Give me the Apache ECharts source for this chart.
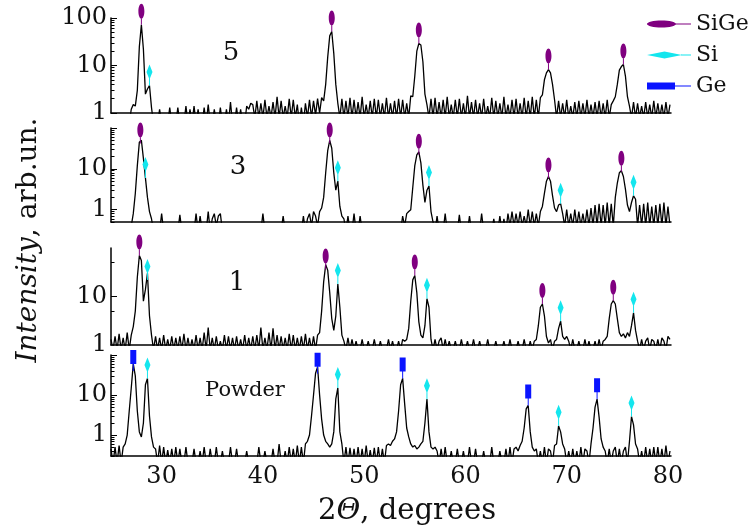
<!DOCTYPE html>
<html>
<head>
<meta charset="utf-8">
<script src="https://cdn.jsdelivr.net/npm/echarts@6/dist/echarts.min.js"></script>
<style>html,body{margin:0;padding:0;background:#fff;}#c{width:749px;height:531px;}</style>
</head>
<body>
<div id="c"></div>
<script>
// 2-theta grid (degrees)
const angles = [
25,25.2,25.4,25.6,25.8,26,26.2,26.4,26.6,26.8,
27,27.2,27.4,27.6,27.8,28,28.2,28.4,28.6,28.8,
29,29.2,29.4,29.6,29.8,30,30.2,30.4,30.6,30.8,
31,31.2,31.4,31.6,31.8,32,32.2,32.4,32.6,32.8,
33,33.2,33.4,33.6,33.8,34,34.2,34.4,34.6,34.8,
35,35.2,35.4,35.6,35.8,36,36.2,36.4,36.6,36.8,
37,37.2,37.4,37.6,37.8,38,38.2,38.4,38.6,38.8,
39,39.2,39.4,39.6,39.8,40,40.2,40.4,40.6,40.8,
41,41.2,41.4,41.6,41.8,42,42.2,42.4,42.6,42.8,
43,43.2,43.4,43.6,43.8,44,44.2,44.4,44.6,44.8,
45,45.2,45.4,45.6,45.8,46,46.2,46.4,46.6,46.8,
47,47.2,47.4,47.6,47.8,48,48.2,48.4,48.6,48.8,
49,49.2,49.4,49.6,49.8,50,50.2,50.4,50.6,50.8,
51,51.2,51.4,51.6,51.8,52,52.2,52.4,52.6,52.8,
53,53.2,53.4,53.6,53.8,54,54.2,54.4,54.6,54.8,
55,55.2,55.4,55.6,55.8,56,56.2,56.4,56.6,56.8,
57,57.2,57.4,57.6,57.8,58,58.2,58.4,58.6,58.8,
59,59.2,59.4,59.6,59.8,60,60.2,60.4,60.6,60.8,
61,61.2,61.4,61.6,61.8,62,62.2,62.4,62.6,62.8,
63,63.2,63.4,63.6,63.8,64,64.2,64.4,64.6,64.8,
65,65.2,65.4,65.6,65.8,66,66.2,66.4,66.6,66.8,
67,67.2,67.4,67.6,67.8,68,68.2,68.4,68.6,68.8,
69,69.2,69.4,69.6,69.8,70,70.2,70.4,70.6,70.8,
71,71.2,71.4,71.6,71.8,72,72.2,72.4,72.6,72.8,
73,73.2,73.4,73.6,73.8,74,74.2,74.4,74.6,74.8,
75,75.2,75.4,75.6,75.8,76,76.2,76.4,76.6,76.8,
77,77.2,77.4,77.6,77.8,78,78.2,78.4,78.6,78.8,
79,79.2,79.4,79.6,79.8,80,80.2];

// Intensities (arb. un.), sample "5"
const sample5 = [
0.6,0.6,0.6,0.6,0.6,0.6,0.6,0.6,0.6,0.6,
1.2,1.5,1.4,3,25,72,22,2.5,3.2,3.8,
1.3,0.6,0.6,0.6,1.2,0.6,0.6,0.6,0.6,1.3,
0.6,0.6,0.6,1.3,0.6,0.6,0.6,1.4,0.6,1.2,
0.6,1.4,0.6,1.2,0.6,0.6,1.3,0.6,1.5,0.6,
0.6,1.2,0.6,0.6,1.3,0.6,0.6,1.2,0.6,1.7,
0.6,0.6,1.3,0.6,1.2,0.6,0.6,1.4,1.2,1.6,
1.5,0.8,1.8,0.8,1.6,0.8,1.9,0.8,1.4,0.8,
1.7,0.8,2.2,0.8,1.8,0.8,1.4,0.8,2.0,0.8,
1.9,0.8,1.5,0.6,1.3,0.6,1.6,0.8,1.9,0.8,
1.8,0.9,2.0,1.0,2.1,1.8,4,15,42,52,
18,4,1.6,0.8,2.0,0.8,1.8,0.8,2.1,0.8,
1.9,0.8,1.7,0.8,2.2,0.8,1.5,0.8,1.8,0.8,
2.0,0.8,1.9,0.8,1.6,0.8,2.1,0.8,1.6,0.8,
1.8,0.8,2.0,0.8,1.9,0.8,1.6,0.8,2.3,2.2,
6,20,29,27,12,2.5,1.5,0.8,2.0,0.8,
2.1,0.8,1.7,0.8,1.9,0.8,2.2,0.8,1.5,0.8,
1.9,0.8,2.0,0.8,1.6,0.8,2.3,0.8,1.7,0.8,
1.9,0.8,1.6,0.8,2.0,0.8,1.4,0.8,2.1,0.8,
1.8,0.8,1.6,0.8,2.2,0.8,1.5,0.8,1.9,0.8,
2.0,0.8,1.6,0.8,2.1,0.8,1.8,0.8,2.2,0.8,
1.9,0.8,2.1,2.4,5,7,8.2,7,4,1.9,
0.8,1.8,0.8,1.6,0.8,1.9,0.8,1.4,0.8,1.7,
0.8,1.8,0.8,1.6,0.8,1.9,0.8,1.5,0.8,1.7,
0.8,1.8,0.8,1.6,0.8,1.9,0.8,1.5,1.8,2.2,
4,8,9.5,10.5,6,2.2,1.4,0.8,1.7,0.8,
1.6,0.8,1.4,0.8,1.7,0.8,1.5,0.8,1.8,0.8,
1.6,0.8,1.5,0.8,1.7,0.8,1.5];

// sample "3"
const sample3 = [
0.3,0.3,0.3,0.3,0.3,0.3,0.3,0.3,0.3,0.3,
0.4,0.8,2.5,12,45,50,18,6,2,0.9,
0.6,0.3,0.3,0.3,0.3,0.8,0.3,0.3,0.3,0.3,
0.3,0.3,0.3,0.3,0.75,0.3,0.3,0.3,0.3,0.3,
0.3,0.3,0.8,0.3,0.7,0.3,0.3,0.3,0.9,0.3,
0.6,0.8,0.4,0.7,0.8,0.3,0.3,0.3,0.3,0.3,
0.3,0.3,0.3,0.3,0.3,0.3,0.3,0.3,0.3,0.3,
0.3,0.3,0.3,0.3,0.3,0.8,0.3,0.3,0.3,0.3,
0.3,0.3,0.3,0.3,0.3,0.7,0.3,0.3,0.3,0.3,
0.3,0.3,0.3,0.3,0.3,0.7,0.3,0.6,0.8,0.4,
0.9,0.7,0.4,0.9,1.1,2,8,28,50,32,
8,3,5,1.2,0.7,0.6,0.3,0.7,0.3,0.3,
0.8,0.3,0.3,0.7,0.3,0.3,0.3,0.3,0.3,0.3,
0.3,0.3,0.3,0.3,0.3,0.3,0.3,0.3,0.3,0.3,
0.3,0.3,0.3,0.3,0.7,0.4,0.8,0.9,1.0,3.5,
12,22,26,14,4,1.5,3,3.8,0.9,0.5,
0.3,0.7,0.3,0.3,0.3,0.8,0.3,0.3,0.3,0.3,
0.3,0.3,0.75,0.3,0.3,0.3,0.3,0.7,0.3,0.3,
0.3,0.3,0.3,0.8,0.3,0.3,0.3,0.3,0.3,0.6,
0.3,0.3,0.7,0.3,0.6,0.3,0.8,0.4,0.9,0.4,
0.8,0.4,0.9,0.4,0.7,0.4,1.0,0.4,0.9,0.4,
0.8,0.4,0.9,1.2,2.5,5,6.5,5,2.2,1.1,
0.9,1.3,1.4,0.8,0.4,1.0,0.4,0.8,0.4,1.0,
0.4,0.9,0.4,0.8,0.4,1.0,0.4,1.1,0.4,1.3,
0.4,1.4,0.4,1.3,0.4,1.5,0.4,1.4,0.4,2,
4.5,8,9,6.5,3.2,1.3,0.9,1.5,2.2,1.8,
0.4,1.3,0.4,1.4,0.4,1.5,0.4,1.2,0.4,1.3,
0.4,1.4,0.4,1.5,0.4,1.2,0.4];

// sample "1"
const sample1 = [
1.3,0.8,1.5,0.8,1.7,0.8,1.4,0.8,1.8,0.8,
1.6,2.4,5,25,70,55,8,14,30,4,
1.6,0.8,1.5,0.8,1.4,0.8,1.6,0.8,1.3,0.8,
1.5,0.8,1.4,0.8,1.5,0.8,1.7,0.8,1.4,0.8,
1.3,0.8,1.6,0.8,1.4,0.8,1.8,0.8,2.3,0.8,
1.4,0.8,1.5,0.8,1.2,0.8,1.6,0.8,1.5,0.8,
1.4,0.8,1.5,0.8,1.3,0.8,1.6,0.8,1.4,0.8,
1.5,0.8,1.6,0.8,2.3,0.8,1.4,0.8,1.8,0.8,
2.2,0.8,1.6,0.8,1.5,0.8,1.4,0.8,1.7,0.8,
1.6,0.8,1.4,0.8,1.5,0.8,1.7,0.8,1.4,0.8,
1.5,0.8,1.6,1.8,5,20,45,35,12,3.5,
2,4,18,6,1.6,1.2,0.8,1.4,0.8,1.3,
0.8,1.2,0.8,0.8,1.3,0.8,0.8,1.2,0.8,0.8,
1.3,0.8,0.8,1.2,0.8,0.8,0.8,1.3,0.8,1.2,
0.8,0.8,1.2,0.8,1.3,1.2,1.3,2.2,8,22,
27,12,3,1.6,1.4,2.5,9,6,1.3,0.8,
1.3,0.8,1.2,1.4,0.8,1.3,0.8,1.2,0.8,0.8,
1.2,0.8,0.8,1.3,0.8,0.8,1.2,0.8,0.8,1.3,
0.8,0.8,1.2,0.8,0.8,0.8,1.3,0.8,0.8,0.8,
1.2,0.8,0.8,0.8,1.2,0.8,0.8,1.3,0.8,0.8,
0.8,1.2,0.8,0.8,1.3,0.8,0.8,1.2,0.8,1.2,
1.3,2.5,6,7,4,1.5,1.1,1.3,0.8,1.2,
1.3,2.2,3.1,1.5,1.3,1.5,1.2,0.8,1.3,0.8,
0.8,1.2,0.8,0.8,1.3,0.8,1.2,0.8,0.8,1.2,
0.8,1.3,0.8,1.2,1.3,1.5,3.5,7,8.2,7,
3.5,1.8,1.5,1.7,1.4,1.8,1.5,2.5,4.6,2,
1.2,0.8,1.3,0.8,1.2,1.4,0.8,1.3,1.2,0.8,
1.3,0.8,1.4,1.2,0.8,1.5,1.3];

// Powder
const powder = [
0.45,0.2,0.5,0.2,0.55,0.2,0.5,0.6,1.0,4,
15,60,30,4,1.2,0.9,2,18,26,3,
0.9,0.5,0.45,0.2,0.55,0.2,0.5,0.2,0.42,0.2,
0.45,0.2,0.5,0.2,0.45,0.2,0.2,0.5,0.2,0.2,
0.2,0.45,0.2,0.2,0.4,0.2,0.5,0.2,0.2,0.45,
0.2,0.2,0.5,0.2,0.2,0.4,0.2,0.2,0.2,0.5,
0.2,0.2,0.45,0.2,0.2,0.2,0.2,0.4,0.2,0.2,
0.2,0.2,0.2,0.5,0.2,0.2,0.4,0.2,0.2,0.2,
0.45,0.2,0.2,0.6,0.2,0.2,0.4,0.2,0.5,0.2,
0.45,0.2,0.55,0.2,0.5,0.2,0.6,0.7,1.0,3,
10,35,50,10,2.5,1,0.7,0.6,0.5,0.6,
1.2,8,15,1.2,0.6,0.2,0.5,0.2,0.48,0.2,
0.45,0.2,0.5,0.2,0.45,0.2,0.55,0.2,0.42,0.2,
0.48,0.2,0.5,0.2,0.45,0.2,0.55,0.6,0.55,0.7,
0.8,1.2,4,18,26,6,1.5,0.9,0.6,0.5,
0.55,0.45,0.5,0.6,0.7,2,7.9,1.2,0.5,0.45,
0.5,0.4,0.2,0.45,0.2,0.5,0.2,0.2,0.4,0.2,
0.2,0.45,0.2,0.2,0.4,0.2,0.2,0.5,0.2,0.2,
0.45,0.2,0.2,0.2,0.4,0.2,0.2,0.2,0.5,0.2,
0.2,0.2,0.4,0.2,0.2,0.45,0.2,0.5,0.2,0.45,
0.5,0.4,0.55,0.7,1.5,4.5,5.5,1.2,0.5,0.4,
0.45,0.2,0.4,0.2,0.5,0.2,0.45,0.4,0.2,0.55,
0.6,1.7,1.2,0.6,0.45,0.2,0.4,0.2,0.45,0.2,
0.4,0.2,0.5,0.2,0.45,0.4,0.2,0.6,1.5,5,
7.9,2.8,0.8,0.5,0.4,0.2,0.45,0.2,0.4,0.5,
0.2,0.45,0.2,0.4,0.5,0.2,0.7,2.9,1.8,0.6,
0.45,0.2,0.4,0.2,0.5,0.2,0.45,0.2,0.5,0.2,
0.5,0.2,0.45,0.2,0.55,0.2,0.4];

// Phase markers: [2theta, intensity at the marker stem foot]
const sige5 = [[28.0,72],[46.8,52],[55.4,29],[68.2,8.2],[75.6,10.5]];
const si5 = [[28.8,3.8]];
const sige3 = [[27.9,42],[46.6,42],[55.4,22],[68.2,5.8],[75.4,8.5]];
const si3 = [[28.4,6],[47.4,5],[56.4,3.8],[69.4,1.4],[76.6,2.2]];
const sige1 = [[27.8,70],[46.2,36],[55.0,27],[67.6,7],[74.6,8.2]];
const si1 = [[28.6,22],[47.4,18],[56.2,9],[69.4,3.1],[76.6,4.6]];
const gePow = [[27.2,40],[45.4,34],[53.8,26],[66.2,5.5],[73.0,7.9]];
const siPow = [[28.6,26],[47.4,15],[56.2,7.9],[69.2,1.7],[76.4,2.9]];

// Axis ticks
const xTicks = [30,40,50,60,70,80];
const yLabels5 = [1,10,100];
const yLabels3 = [1,10];
const yLabels1 = [1,10];
const yLabelsP = [1,10];
const panelNames = ['5','3','1','Powder'];

const FONT = "'DejaVu Serif', serif";
const minorDec = [2,3,4,5,6,7,8,9,20,30,40,50,60,70,80,90];
const panels = [
  {vals: sample5, min:1, max:100, labels:yLabels5, major:[1,10,100], minor:minorDec, top:18, height:95},
  {vals: sample3, min:0.5, max:100, labels:yLabels3, major:[1,10,100], minor:[0.5,0.6,0.7,0.8,0.9].concat(minorDec), top:128, height:94},
  {vals: sample1, min:1, max:100, labels:yLabels1, major:[10], minor:[5,50], top:248, height:97},
  {vals: powder, min:0.3, max:100, labels:yLabelsP, major:[1,10,100], minor:[0.3,0.4,0.5,0.6,0.7,0.8,0.9].concat(minorDec), top:355, height:101}
];

const SIGE_SYM = 'path://M3,0C4.66,0 6,3.36 6,7.5C6,11.64 4.66,15 3,15C1.34,15 0,11.64 0,7.5C0,3.36 1.34,0 3,0Z M2.5,14L3.5,14L3.5,21L2.5,21Z';
const SI_SYM = 'path://M3,0L6,7.5L3,15L0,7.5Z M2.5,14L3.5,14L3.5,21L2.5,21Z';
const GE_SYM = 'path://M0,0L6,0L6,14L0,14Z M2.5,14L3.5,14L3.5,21L2.5,21Z';
const COL = {SiGe:'#800080', Si:'#14e6ee', Ge:'#0a14ff'};

const grids = [], xAxes = [], yAxes = [], series = [];
panels.forEach((p, i) => {
  grids.push({left:111, top:p.top, width:560, height:p.height, containLabel:false, outerBoundsMode:'none'});
  xAxes.push({
    type:'value', gridIndex:i, min:25, max:80.3,
    axisLine:{show:true, onZero:false, lineStyle:{color:'#000', width:1.5}},
    axisTick:{show:false}, splitLine:{show:false},
    axisLabel: i === 3 ? {show:true, customValues:xTicks, fontFamily:FONT, fontSize:24, color:'#111', margin:9} : {show:false}
  });
  yAxes.push({
    type:'log', logBase:10, gridIndex:i, position:'left', min:p.min, max:p.max,
    axisLine:{show:true, onZero:false, lineStyle:{color:'#000', width:1.5}},
    axisTick:{show:true, inside:true, length:6, customValues:p.major, lineStyle:{color:'#000', width:1}},
    axisLabel:{show:true, customValues:p.labels, fontFamily:FONT, fontSize:24, color:'#111', margin:4},
    splitLine:{show:false}
  });
  yAxes.push({
    type:'log', logBase:10, gridIndex:i, position:'left', min:p.min, max:p.max,
    axisLine:{show:false},
    axisTick:{show:true, inside:true, length:3.5, customValues:p.minor, lineStyle:{color:'#000', width:1}},
    axisLabel:{show:false}, splitLine:{show:false}
  });
  series.push({
    type:'line', xAxisIndex:i, yAxisIndex:2*i, symbol:'none', showSymbol:false, smooth:false, clip:true, silent:true,
    data: angles.map((a, k) => [a, p.vals[k]]),
    lineStyle:{color:'#000', width:1.3}, z:2
  });
});

function markers(name, sym, data, i) {
  return {
    type:'scatter', name:name, xAxisIndex:i, yAxisIndex:2*i, data:data, clip:false, silent:true,
    symbol:sym, symbolSize:[6,21], symbolOffset:[0,'-50%'],
    itemStyle:{color:COL[name], opacity:1}, z:3
  };
}
series.push(markers('SiGe', SIGE_SYM, sige5, 0));
series.push(markers('Si', SI_SYM, si5, 0));
series.push(markers('SiGe', SIGE_SYM, sige3, 1));
series.push(markers('Si', SI_SYM, si3, 1));
series.push(markers('SiGe', SIGE_SYM, sige1, 2));
series.push(markers('Si', SI_SYM, si1, 2));
series.push(markers('Ge', GE_SYM, gePow, 3));
series.push(markers('Si', SI_SYM, siPow, 3));

const labelPos = [[231,53],[238,167],[237,283],[245,391]];
const graphics = panelNames.map((t, i) => ({
  type:'text', x:labelPos[i][0], y:labelPos[i][1],
  style:{text:t, fontFamily:FONT, fontSize: i === 3 ? 21 : 26, fill:'#111', textAlign:'center', textVerticalAlign:'middle'}
}));
graphics.push({
  type:'text', x:29, y:240, rotation:Math.PI/2,
  style:{text:'{it|Intensity}, arb.un.', fontFamily:FONT, fontSize:28, fill:'#111', textAlign:'center', textVerticalAlign:'middle',
    rich:{it:{fontFamily:FONT, fontSize:28, fontStyle:'italic', fill:'#111'}}}
});
graphics.push({
  type:'text', x:407, y:511,
  style:{text:'2{it|Θ}, degrees', fontFamily:FONT, fontSize:29, fill:'#111', textAlign:'center', textVerticalAlign:'middle',
    rich:{it:{fontFamily:FONT, fontSize:29, fontStyle:'italic', fill:'#111'}}}
});

const chart = echarts.init(document.getElementById('c'), null, {renderer:'canvas'});
chart.setOption({
  animation:false,
  backgroundColor:'#fff',
  textStyle:{fontFamily:FONT},
  grid:grids, xAxis:xAxes, yAxis:yAxes, series:series,
  legend:{
    orient:'vertical', left:642, top:8, itemWidth:44, itemHeight:7, itemGap:9, selectedMode:false,
    textStyle:{fontFamily:FONT, fontSize:22, color:'#111', lineHeight:22},
    data:[
      {name:'SiGe', icon:'path://M14.5,0C22.5,0 29,1.57 29,3.5C29,5.43 22.5,7 14.5,7C6.5,7 0,5.43 0,3.5C0,1.57 6.5,0 14.5,0Z M28,3L44,3L44,4L28,4Z', itemStyle:{opacity:1}},
      {name:'Si', icon:'path://M0,3.5L17.5,0L35,3.5L17.5,7Z M34,3L44,3L44,4L34,4Z', itemStyle:{opacity:1}},
      {name:'Ge', icon:'path://M0,0L28,0L28,7L0,7Z M27,3L44,3L44,4L27,4Z', itemStyle:{opacity:1}}
    ]
  },
  graphic:graphics
});
</script>
</body>
</html>
